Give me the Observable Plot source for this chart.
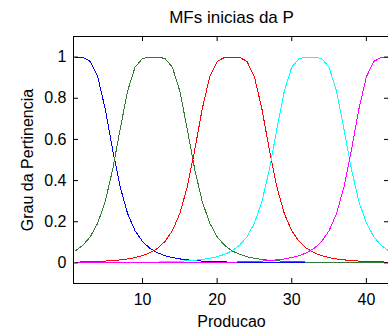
<!DOCTYPE html>
<html><head><meta charset="utf-8">
<script src="https://cdn.jsdelivr.net/npm/d3@7"></script>
<script src="https://cdn.jsdelivr.net/npm/@observablehq/plot@0.6"></script>
<style>html,body{margin:0;padding:0;overflow:hidden;background:#fff} #chart svg{max-width:none !important;height:333px !important;width:400px !important}</style>
</head><body><div id="chart"></div>
<script>
const title = "MFs inicias da P";
const xLabel = "Producao";
const yLabel = "Grau da Pertinencia";
const xValues = [1,2,3,4,5,6,7,8,9,10,11,12,13,14,15,16,17,18,19,20,21,22,23,24,25,26,27,28,29,30,31,32,33,34,35,36,37,38,39,40,41,42,43];
const blue = [1,0.9987,0.979,0.904,0.748,0.549,0.370,0.240,0.156,0.104,0.0706,0.0493,0.0353,0.0259,0.0194,0.0148,0.0115,0.0090,0.0072,0.0058,0.0047,0.0039,0.0032,0.0027,0.0023,0.0019,0.0017,0.0014,0.0012,0.0011,0.0009,0.0008,0.0007,0.0006,0.0005,0.0005,0.0004,0.0004,0.0003,0.0003,0.0003,0.0002,0.0002];
const green = [0.0588,0.0853,0.1270,0.1936,0.2985,0.454,0.649,0.835,0.951,0.9934,1,1,0.9934,0.951,0.835,0.649,0.454,0.2985,0.1936,0.1270,0.0853,0.0588,0.0416,0.0302,0.0224,0.0169,0.0130,0.0101,0.0080,0.0064,0.0052,0.0043,0.0035,0.0030,0.0025,0.0021,0.0018,0.0015,0.0013,0.0012,0.0010,0.0009,0.0008];
const red = [0.0039,0.0047,0.0058,0.0072,0.0090,0.0115,0.0148,0.0194,0.0259,0.0353,0.0493,0.0706,0.104,0.156,0.240,0.370,0.549,0.748,0.904,0.979,0.9987,1,0.9987,0.979,0.904,0.748,0.549,0.370,0.240,0.156,0.104,0.0706,0.0493,0.0353,0.0259,0.0194,0.0148,0.0115,0.0090,0.0072,0.0058,0.0047,0.0039];
const cyan = [0.0008,0.0009,0.0010,0.0012,0.0013,0.0015,0.0018,0.0021,0.0025,0.0030,0.0035,0.0043,0.0052,0.0064,0.0080,0.0101,0.0130,0.0169,0.0224,0.0302,0.0416,0.0588,0.0853,0.1270,0.1936,0.2985,0.454,0.649,0.835,0.951,0.9934,1,1,0.9934,0.951,0.835,0.649,0.454,0.2985,0.1936,0.1270,0.0853,0.0588];
const magenta = [0.0002,0.0002,0.0003,0.0003,0.0003,0.0004,0.0004,0.0005,0.0005,0.0006,0.0007,0.0008,0.0009,0.0011,0.0012,0.0014,0.0017,0.0019,0.0023,0.0027,0.0032,0.0039,0.0047,0.0058,0.0072,0.0090,0.0115,0.0148,0.0194,0.0259,0.0353,0.0493,0.0706,0.104,0.156,0.240,0.370,0.549,0.748,0.904,0.979,0.9987,1];
const seriesColors = ["#0000ff", "#337a33", "#ff0000", "#00ffff", "#ff00ff"];
const xTicks = [10, 20, 30, 40];
const yTicks = [0, 0.2, 0.4, 0.6, 0.8, 1];
const yTickLabels = ["0", "0.2", "0.4", "0.6", "0.8", "1"];

const W = 400, H = 333, ML = 73, MR = 11, MT = 36, MB = 50;
const FW = W - ML - MR, FH = H - MT - MB, TICK = 5;
const series = [blue, green, red, cyan, magenta];

const lineMarks = series.map((vals, k) =>
  Plot.line(xValues.map((x, i) => ({x, y: vals[i]})), {
    x: "x", y: "y", stroke: seriesColors[k], strokeWidth: 1, shapeRendering: "crispEdges"
  })
);

const chart = Plot.plot({
  width: W, height: H,
  marginLeft: ML, marginRight: MR, marginTop: MT, marginBottom: MB,
  style: {fontFamily: "'Liberation Sans', Arial, sans-serif", fontSize: "16px", color: "black", background: "white", maxWidth: "none"},
  x: {domain: [0.75, 43.1]},
  y: {domain: [-0.1, 1.1]},
  marks: [
    ...lineMarks,
    Plot.frame({stroke: "black"}),
    Plot.tickX(xTicks, {x: d => d, insetTop: FH - TICK, stroke: "black"}),
    Plot.tickX(xTicks, {x: d => d, insetBottom: FH - TICK, stroke: "black"}),
    Plot.tickY(yTicks, {y: d => d, insetRight: FW - TICK, stroke: "black"}),
    Plot.tickY(yTicks, {y: d => d, insetLeft: FW - TICK, stroke: "black"}),
    Plot.axisX(xTicks, {anchor: "bottom", tickSize: 0, tickPadding: 10, label: null}),
    Plot.axisY(yTicks, {anchor: "left", tickSize: 0, tickPadding: 7, label: null,
      tickFormat: d => yTickLabels[yTicks.indexOf(d)]}),
    Plot.text([title], {text: d => d, frameAnchor: "top", dy: -14, lineAnchor: "bottom", textAnchor: "middle", fontSize: 17}),
    Plot.text([xLabel], {text: d => d, frameAnchor: "bottom", dy: 38, lineAnchor: "middle", textAnchor: "middle"}),
    Plot.text([yLabel], {text: d => d, frameAnchor: "left", dx: -45.5, rotate: -90, lineAnchor: "middle", textAnchor: "middle"})
  ]
});
document.getElementById("chart").appendChild(chart);
</script>
</body></html>
